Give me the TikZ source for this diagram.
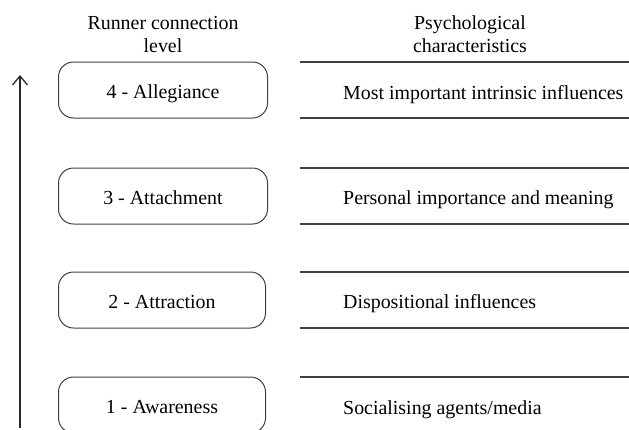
\documentclass[tikz,border=0pt]{standalone}
\usepackage{fontspec}
\setmainfont{Liberation Serif}
\usetikzlibrary{arrows.meta}
\begin{document}
\begin{tikzpicture}[x=1pt,y=-1pt,
  txt/.style={font=\fontsize{19.9}{23}\selectfont, inner sep=0pt, anchor=base},
  levelbox/.style={draw=black!75, line width=1pt, rounded corners=15pt, minimum width=209pt, minimum height=56pt, font=\fontsize{19.9}{23}\selectfont, inner sep=0pt, text height=20pt, text depth=4pt},
  rule/.style={draw=black!75, line width=1.3pt},
  charlabel/.style={font=\fontsize{19.9}{23}\selectfont, anchor=base west, inner sep=0pt}]
\useasboundingbox (0,0) rectangle (629,429);
% headers
\node[txt] (h1a) at (163,29) {Runner connection};
\node[txt] (h1b) at (163,52) {level};
\node[txt] (h2a) at (470,29) {Psychological};
\node[txt] (h2b) at (470,52) {characteristics};
% level boxes
\node[levelbox] (b4) at (163,90) {4 - Allegiance};
\node[levelbox] (b3) at (163,196) {3 - Attachment};
\node[levelbox, minimum width=207pt] (b2) at (162,300) {2 - Attraction};
\node[levelbox, minimum width=207pt] (b1) at (162,405) {1 - Awareness};
% separator lines
\coordinate (l4a) at (300,62); \coordinate (r4a) at (629,62);
\coordinate (l4b) at (300,118); \coordinate (r4b) at (629,118);
\coordinate (l3a) at (300,168); \coordinate (r3a) at (629,168);
\coordinate (l3b) at (300,224); \coordinate (r3b) at (629,224);
\coordinate (l2a) at (300,272); \coordinate (r2a) at (629,272);
\coordinate (l2b) at (300,328); \coordinate (r2b) at (629,328);
\coordinate (l1a) at (300,377); \coordinate (r1a) at (629,377);
\foreach \n in {4a,4b,3a,3b,2a,2b,1a} {\draw[rule] (l\n) -- (r\n);}
% characteristics
\node[charlabel] (c4) at (343,99) {Most important intrinsic influences};
\node[charlabel] (c3) at (343,204) {Personal importance and meaning};
\node[charlabel] (c2) at (343,308) {Dispositional influences};
\node[charlabel] (c1) at (343,414) {Socialising agents/media};
% arrow
\coordinate (abot) at (20,428);
\coordinate (atop) at (20,75);
\draw[line width=1.3pt, draw=black!85, -{Straight Barb[length=9pt,width=15pt,line width=1.3pt]}] (abot) -- (atop);
\end{tikzpicture}
\end{document}
